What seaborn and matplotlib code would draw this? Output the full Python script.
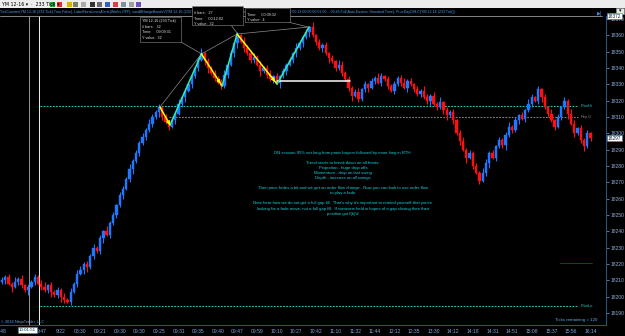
import numpy as np
import pandas as pd
import matplotlib
matplotlib.use("Agg")
import matplotlib.pyplot as plt
import seaborn as sns
from matplotlib.patches import Rectangle
from matplotlib.lines import Line2D

# ---------------- data ----------------
first_open = 18209
closes = [
    18210, 18212, 18208, 18206, 18209, 18211, 18207, 18204, 18206, 18209, 18212, 18208,
    18206, 18204, 18207, 18203, 18201, 18204, 18200, 18198, 18197,
    18203, 18208, 18214, 18216,
    18220, 18218, 18225, 18230, 18228, 18236,
    18240, 18238, 18245, 18250, 18256, 18262,
    18266, 18272, 18278, 18283, 18288, 18294,
    18298, 18302, 18306, 18310, 18313, 18316,
    18310, 18307, 18304,
    18308, 18312, 18318, 18322, 18326, 18330, 18335, 18340, 18345, 18349,
    18344, 18340, 18337, 18334, 18331, 18329,
    18336, 18342, 18349, 18355, 18360,
    18356, 18352, 18349, 18345, 18347, 18342, 18338, 18340, 18336, 18333, 18335, 18331,
    18335, 18338, 18342, 18345, 18349, 18352, 18355, 18359, 18362, 18365,
    18360, 18356, 18352, 18354, 18349, 18346, 18344, 18340, 18342, 18337, 18333, 18328,
    18323, 18325, 18321, 18327, 18330, 18328, 18332, 18334, 18331, 18335, 18333, 18329,
    18326, 18330, 18334, 18331, 18328, 18332, 18330, 18327, 18324, 18326, 18322, 18320,
    18323, 18318, 18316, 18319, 18314, 18311, 18313,
    18308, 18300, 18295, 18290, 18285, 18288, 18280, 18276, 18271,
    18276, 18282, 18288, 18285, 18292, 18296, 18293, 18299, 18304, 18302, 18308, 18311,
    18309, 18314, 18318, 18322, 18320, 18327,
    18322, 18316, 18312, 18308, 18304, 18310, 18316, 18320, 18312, 18306, 18300, 18303,
    18296, 18292, 18300, 18297,
]
wick_up = [
    2, 1, 2, 1, 3, 1, 2, 1, 2, 1, 2, 1, 2, 3, 1, 2, 1, 2, 1, 2,
    1, 2, 1, 2, 3, 1, 2, 1, 2, 1, 2, 1, 3, 1, 2, 1, 2, 2, 1, 3,
    1, 2, 1, 2, 1, 3, 2, 1, 2, 1, 2, 1, 2, 1, 3, 1, 2, 1, 2, 1,
    2, 3, 1, 2, 1, 2, 1, 2, 3, 1, 2, 1, 2, 1, 3, 2, 1, 2, 1, 2,
    1, 2, 3, 1, 2, 1, 2, 1, 2, 1, 3, 2, 1, 2, 1, 3, 1, 2, 1, 2,
    1, 2, 1, 3, 2, 1, 2, 1, 2, 3, 1, 2, 1, 2, 1, 3, 2, 1, 2, 1,
    2, 1, 2, 3, 1, 2, 1, 2, 1, 3, 2, 1, 2, 1, 3, 1, 2, 1, 2, 1,
    2, 3, 1, 2, 1, 2, 1, 3, 2, 1, 2, 1, 2, 1, 2, 3, 1, 2, 1, 2,
    1, 3, 2, 1, 2, 1, 2, 1, 3, 1, 2, 1, 2, 1, 3, 2, 1, 2, 1, 2,
    1,
]
wick_dn = [
    1, 2, 1, 3, 1, 2, 2, 1, 3, 1, 2, 1, 2, 1, 2, 3, 1, 2, 3, 2,
    1, 2, 1, 2, 1, 2, 3, 1, 2, 1, 2, 3, 1, 2, 1, 2, 1, 2, 1, 2,
    3, 1, 2, 1, 2, 1, 2, 1, 3, 2, 1, 2, 1, 2, 1, 2, 3, 1, 2, 1,
    2, 1, 2, 3, 1, 2, 1, 2, 1, 2, 1, 2, 3, 1, 2, 1, 2, 2, 1, 3,
    1, 2, 1, 2, 1, 3, 1, 2, 1, 2, 2, 1, 2, 1, 3, 1, 2, 1, 2, 1,
    3, 1, 2, 1, 2, 1, 2, 3, 1, 2, 1, 2, 3, 1, 2, 1, 2, 1, 2, 1,
    2, 1, 2, 1, 3, 1, 2, 1, 2, 1, 2, 3, 1, 2, 1, 2, 3, 1, 2, 1,
    2, 1, 3, 1, 2, 1, 2, 1, 2, 3, 1, 2, 1, 2, 3, 1, 2, 1, 2, 1,
    2, 1, 2, 1, 2, 3, 1, 2, 1, 2, 1, 2, 1, 3, 1, 2, 1, 2, 3, 1,
    2,
]
x_labels = ["3:48", "", "9:47", "9/22", "08:30", "09:21", "09:30", "09:30", "09:25",
            "09:31", "09:35", "09:40", "09:47", "09:59", "10:10", "10:27", "10:42",
            "11:10", "11:32", "11:44", "12:12", "12:35", "13:30", "14:12", "14:18",
            "14:31", "14:51", "15:08", "15:37", "15:56", "16:14"]
bars_per_label = 6
y_ticks = list(range(18190, 18371, 10))

swing_idx = [48.3, 51.4, 61.0, 67.3, 71.9, 84.1, 93.9]
swing_price = [18316.1, 18305.1, 18348.6, 18329.0, 18360.8, 18330.2, 18365.1]

level_names = ["PriorHi", "Rep.O", "PriorLo"]
level_values = [18316.7, 18310.0, 18194.2]
level_start = [11.6, 51.0, 11.6]
level_colors = ["#22c4c4", "#808080", "#22c4c4"]
red_level = 18220.6
red_span = [170.6, 180.5]
white_level = 18332.0
white_span = [84.1, 106.4]
cursor_idx = 8.3
session_idx = 11.3
cursor_label = "10:01:51"
last_price = 18297
top_price = 18372

notes = [
    "DN session 95% net long from panic buyers followed by more long in RTH.",
    "",
    "Trend starts to break down on all fronts:",
    "Projection - huge drop offs",
    "Momentum - drop on last swing",
    "Depth - increase on all swings",
    "",
    "Then price fades a bit and we get an order flow change.  Now you can look to use order flow",
    "to play a fade.",
    "",
    "Note here how we do not get a full gap fill.  That's why it's important to remind yourself that you're",
    "looking for a fade move, not a full gap fill.  If someone held in hopes of a gap closing then their",
    "position got f(k)'d",
]

# ---------------- build frame ----------------
opens = [first_open] + closes[:-1]
df = pd.DataFrame({"idx": np.arange(len(closes)), "open": opens, "close": closes,
                   "wu": wick_up, "wd": wick_dn})
df["high"] = df[["open", "close"]].max(axis=1) + df["wu"]
df["low"] = df[["open", "close"]].min(axis=1) - df["wd"]
df["up"] = df["close"] >= df["open"]

# ---------------- style ----------------
sns.set_theme(style="dark", rc={"axes.facecolor": "black", "figure.facecolor": "black",
                                "axes.grid": False})
plt.rcParams["font.family"] = ["Liberation Sans", "DejaVu Sans"]

W, H = 625, 336
fig = plt.figure(figsize=(W / 100, H / 100), dpi=100, facecolor="black")
ax = fig.add_axes([0, (H - 325) / H, 606 / W, (325 - 16) / H])
ax.set_facecolor("black")

def px2price(py):
    return 18370 - (py - 19) * 10 / 16.33

ax.set_ylim(px2price(325), px2price(16))
ax.set_xlim((0 - 2) / 3.27, (606 - 2) / 3.27)

UP = "#1f78ff"
DN = "#ff1010"
cols = np.where(df["up"], UP, DN)
ax.vlines(df["idx"], df["low"], df["high"], colors=cols, lw=0.8, zorder=3)
body_h = (df["close"] - df["open"]).abs().clip(lower=0.4)
ax.bar(df["idx"], body_h, bottom=df[["open", "close"]].min(axis=1), width=0.7,
       color=cols, edgecolor=cols, lw=0.3, zorder=3)

# level lines
for name, val, st, c in zip(level_names, level_values, level_start, level_colors):
    ax.plot([st, 176.2], [val, val], color=c, lw=0.8, ls=(0, (1.6, 1.2)), zorder=2)
    ax.text(177.0, val, name, color=c, fontsize=2.8, va="center", ha="left", zorder=5)
ax.plot(red_span, [red_level, red_level], color="#8b1a1a", lw=0.6, zorder=2)
ax.plot(white_span, [white_level, white_level], color="white", lw=1.1, zorder=4)

# vertical lines
ax.axvline(cursor_idx, color="#b0b0b0", lw=0.6, zorder=1)
ax.axvline(session_idx, color="#f0f0f0", lw=0.7, zorder=1)

# swing connections (gray) and zigzag legs
sw = pd.DataFrame({"x": swing_idx, "y": swing_price})
for a, b in [(0, 2), (2, 4), (4, 6)]:
    sns.lineplot(data=sw.iloc[[a, b]], x="x", y="y", color="#8a8a8a", lw=0.5,
                 sort=False, estimator=None, ax=ax, zorder=4)
for k in range(len(swing_idx) - 1):
    seg = sw.iloc[[k, k + 1]]
    down = swing_price[k + 1] < swing_price[k]
    c = "#ffff00" if down else "#2ef0a8"
    sns.lineplot(data=seg, x="x", y="y", color=c, lw=1.1, sort=False,
                 estimator=None, ax=ax, zorder=6)
    if down:
        x0, y0 = swing_idx[k], swing_price[k]
        x1, y1 = swing_idx[k + 1], swing_price[k + 1]
        ax.annotate("", xy=(x1, y1), xytext=(x1 - 0.25 * (x1 - x0), y1 - 0.25 * (y1 - y0)),
                    arrowprops=dict(arrowstyle="-|>", color="#ffff00", lw=0.9,
                                    mutation_scale=5), zorder=7)

# axes styling
ax.yaxis.tick_right()
ax.set_yticks(y_ticks)
ax.set_yticklabels([str(v) for v in y_ticks])
ax.set_xticks(np.arange(len(x_labels)) * bars_per_label)
ax.set_xticklabels(x_labels)
ax.tick_params(axis="both", colors="#7fa6d6", labelsize=3.6, length=2, width=0.5, pad=1.2)
ax.tick_params(axis="y", labelcolor="#8fb0d8")
for s in ["left", "top"]:
    ax.spines[s].set_visible(False)
for s in ["right", "bottom"]:
    ax.spines[s].set_color("#2d5078")
    ax.spines[s].set_linewidth(0.8)
ax.set_xlabel("")
ax.set_ylabel("")

# ---------------- figure decorations ----------------
def fx(px):
    return px / W

def fy(py):
    return 1 - py / H

# toolbar
fig.patches.append(Rectangle((0, fy(8)), 1, 8 / H, transform=fig.transFigure,
                             facecolor="#ececec", edgecolor="none", zorder=0))
fig.text(fx(2), fy(4), "YM 12-16 \u25be  \u00b7  233 Tick \u25be", fontsize=3.4,
         color="black", va="center", family=["DejaVu Sans"])
icon_x = [50, 57, 67, 73, 81, 90, 97, 105, 113, 121, 129, 136]
icon_c = ["#2a9d2a", "#d93030", "#e0b000", "#7a7a7a", "#aaaaaa", "#333333", "#6a6a6a",
          "#3060c0", "#e04040", "#8090a0", "#a0a0a0", "#7050c0"]
for xi, ci in zip(icon_x, icon_c):
    fig.patches.append(Rectangle((fx(xi), fy(6.5)), 4.5 / W, 5 / H,
                                 transform=fig.transFigure, facecolor=ci,
                                 edgecolor="none", zorder=1))
fig.patches.append(Rectangle((fx(616), fy(14)), 8 / W, 6 / H, transform=fig.transFigure,
                             facecolor="#e8e8e8", edgecolor="#909090", lw=0.4, zorder=1))
fig.text(fx(620), fy(11), "\u25be", fontsize=3.5, color="black", ha="center", va="center",
         family=["DejaVu Sans"])

header = ("TickCounter(YM 12-16 (233 Tick),True,False), LabelHorizLinesAlerts(Works OFF), "
          "sandBHangeBandsV(YM 12-16 (233 Tick),Cyan,Orange,Standard Time,True,0.5,1,2,"
          "15:00:00,08:00:00,13:00:00,00:01:00, - 00:45,Full,Auto,Eastern Standard Time), "
          "PriorDayOHLC(YM 12-16 (233 Tick))")
fig.text(fx(0), fy(12), header, fontsize=2.6, color="#4f9be8", va="center", zorder=2)
fig.lines.append(Line2D([0, fx(602)], [fy(16), fy(16)], transform=fig.transFigure,
                        color="#9a9a9a", lw=0.6))
fig.text(fx(600), fy(13), "\u25b6|", fontsize=3.5, color="#3d8fe0", ha="center",
         va="center", family=["DejaVu Sans"])

# price flags on the axis
for pyv, txt in [(16, str(top_price)), (138, str(last_price))]:
    fig.text(fx(608), fy(pyv), txt, fontsize=3.4, color="#102040", va="center",
             bbox=dict(boxstyle="square,pad=0.15", fc="white", ec="#3d7fd0", lw=0.4))
fig.text(fx(19), fy(330), cursor_label, fontsize=3.2, color="#102040", va="center",
         bbox=dict(boxstyle="square,pad=0.12", fc="white", ec="#3d7fd0", lw=0.4))

# tooltip boxes
boxes = [
    (140, 17, 41, 25, ["YM 12-16 (233 Tick)", "# bars:   32", "Time:     09:09:31", "Y value:  32"], 21),
    (192, 6, 51, 19, ["# bars:   27", "Time:     00:12:02", "Y value:  32"], 13),
    (245, 8, 45, 14, ["Time:     00:09:32", "Y value:  4"], 14.5),
]
for bx, by, bw, bh, lines, ty in boxes:
    fig.patches.append(Rectangle((fx(bx), fy(by + bh)), bw / W, bh / H,
                                 transform=fig.transFigure, facecolor="black",
                                 edgecolor="#8a8a8a", lw=0.4, zorder=5))
    for j, t in enumerate(lines):
        fig.text(fx(bx + 2), fy(ty + j * 5.6), t, fontsize=2.7, color="#e0e0e0",
                 va="center", zorder=6)
for (x0, y0), (x1, y1) in [((181, 42), (200, 53)), ((231, 25), (237, 33)),
                           ((288, 22), (308, 27))]:
    fig.lines.append(Line2D([fx(x0), fx(x1)], [fy(y0), fy(y1)], transform=fig.transFigure,
                            color="#8a8a8a", lw=0.5))

# notes
ny = [153, 158, 163, 168, 173, 178, 183, 188, 193, 198, 203, 209, 214]
for t, yy in zip(notes, ny):
    if t:
        fig.text(fx(343), fy(yy), t, fontsize=3.05, color="#12d2dc", ha="center",
                 va="center")

fig.text(fx(1), fy(322), "\u00a9 2016 NinjaTrader, LLC", fontsize=2.8, color="#6f9fd8",
         va="center")
fig.text(fx(597), fy(320), "Ticks remaining = 120", fontsize=3.2, color="#7fa6d6",
         ha="right", va="center")

fig.savefig("out.png", dpi=100, facecolor="black")
